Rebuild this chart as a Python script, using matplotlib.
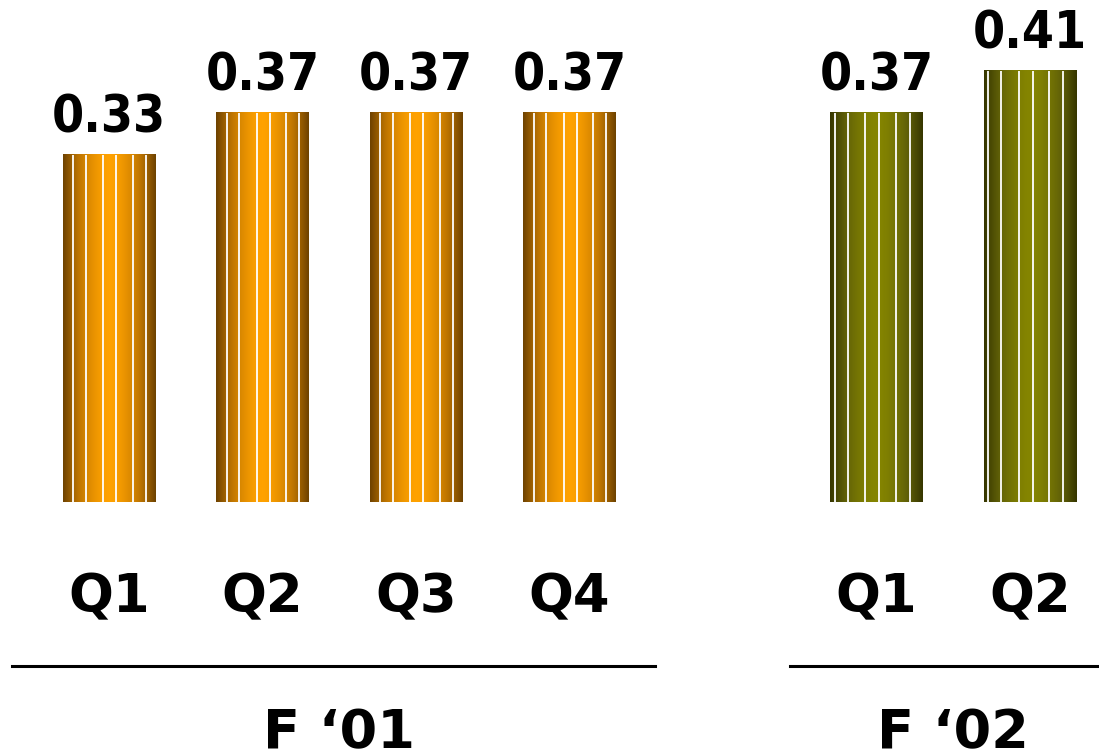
import numpy as np
import matplotlib
matplotlib.use("Agg")
import matplotlib.pyplot as plt
from matplotlib.colors import LinearSegmentedColormap

# quarterly values, fiscal '01 and '02
quarters_01 = ["Q1", "Q2", "Q3", "Q4"]
values_01 = [0.33, 0.37, 0.37, 0.37]
quarters_02 = ["Q1", "Q2"]
values_02 = [0.37, 0.41]
group_names = ["F \u201801", "F \u201802"]

pos_01 = [0, 1, 2, 3]
pos_02 = [5, 6]
bar_w = 0.6

orange = LinearSegmentedColormap.from_list("org", ["#6e4200", "#c07600", "#ffa200"])
olive = LinearSegmentedColormap.from_list("olv", ["#363600", "#626208", "#858500"])

# where the thin white stripes sit inside a bar (fraction of width)
stripes_01 = [0.11, 0.25, 0.44, 0.58, 0.76, 0.90]
stripes_02 = [0.045, 0.19, 0.38, 0.53, 0.71, 0.86]

fig = plt.figure(figsize=(10.99, 7.53), dpi=100)
ax = fig.add_axes([0, 0, 1, 1])
ax.axis("off")

t = np.linspace(0, 1, 200)
profile = 1 - np.abs(2 * t - 1) ** 1.6
grad = profile[np.newaxis, :]


def draw_bars(pos, vals, cmap, stripes):
    bars = ax.bar(pos, vals, width=bar_w, color="none", edgecolor="none")
    for b, v in zip(bars, vals):
        x0, w = b.get_x(), b.get_width()
        ax.imshow(grad, cmap=cmap, vmin=0, vmax=1, aspect="auto",
                  extent=[x0, x0 + w, 0, v], interpolation="bilinear", zorder=2)
        ax.vlines([x0 + f * w for f in stripes], 0, v, colors="white",
                  lw=1.3, zorder=3)
        ax.annotate(f"{v:.2f}", (b.get_x() + w / 2, v), xytext=(0, 16),
                    textcoords="offset points", ha="center", va="baseline",
                    fontsize=37, fontweight="bold", fontstretch="condensed",
                    family="DejaVu Sans")


draw_bars(pos_01, values_01, orange, stripes_01)
draw_bars(pos_02, values_02, olive, stripes_02)

for p, q in zip(pos_01 + pos_02, quarters_01 + quarters_02):
    ax.text(p, -0.1046, q, ha="center", va="baseline", fontsize=38,
            fontweight="bold", family="DejaVu Sans")

# group underline and name
ax.plot([-0.63, 3.56], [-0.156, -0.156], color="black", lw=2.2)
ax.plot([4.44, 6.5], [-0.156, -0.156], color="black", lw=2.2)
ax.text(1.5, -0.2338, group_names[0], ha="center", va="baseline", fontsize=39,
        fontweight="bold", family="DejaVu Sans")
ax.text(5.5, -0.2338, group_names[1], ha="center", va="baseline", fontsize=39,
        fontweight="bold", family="DejaVu Sans")

ax.set_xlim(-0.71, 6.45)
ax.set_ylim(-0.2386, 0.4772)

fig.savefig("out.png", dpi=100)
